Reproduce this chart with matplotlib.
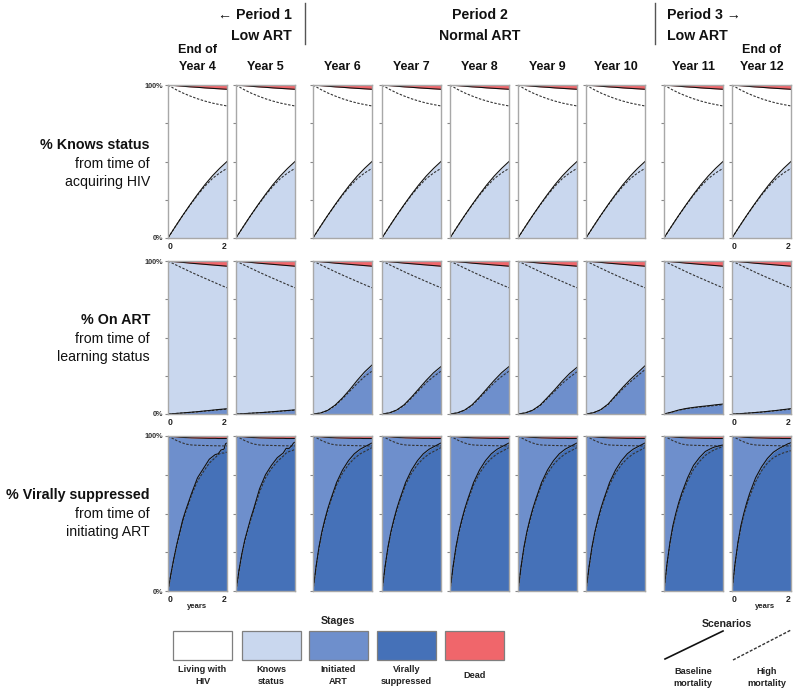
import matplotlib.pyplot as plt

plt.rcParams['font.family'] = ['Liberation Sans', 'DejaVu Sans']

# column headers
columns = ['End of\nYear 4', 'Year 5', 'Year 6', 'Year 7', 'Year 8',
           'Year 9', 'Year 10', 'Year 11', 'End of\nYear 12']

# years since start of stage
t = [0, 0.25, 0.5, 0.75, 1.0, 1.25, 1.5, 1.75, 2.0]
t3 = [0, 0.1, 0.2, 0.3, 0.4, 0.5, 0.6, 0.8, 1.0, 1.2, 1.4, 1.6, 1.7, 1.8, 1.9, 1.95, 2.0]

# row 1: % knows status from time of acquiring HIV (same in every year)
know_base = [0, 7.5, 14.8, 21.8, 28.5, 34.8, 40.5, 45.5, 50]
know_high = [0, 7.5, 14.7, 21.5, 28, 33.8, 38.8, 42.5, 45.5]
dead1_base = [100, 99.6, 99.2, 98.8, 98.5, 98.1, 97.8, 97.5, 97.2]
dead1_high = [100, 97.2, 94.8, 92.8, 91.0, 89.5, 88.2, 87.2, 86.3]

# row 2: % on ART from time of learning status
art_base = [
    [0, 0.3, 0.7, 1.1, 1.5, 2.0, 2.5, 3.0, 3.4],
    [0, 0.2, 0.5, 0.8, 1.1, 1.5, 1.9, 2.3, 2.7],
    [0, 0.6, 2.4, 5.8, 10.5, 16, 22, 27.5, 32],
    [0, 0.7, 2.6, 6, 11, 16.5, 22, 27, 31],
    [0, 0.7, 2.6, 6, 11, 16.5, 22, 27, 31],
    [0, 0.7, 2.5, 5.8, 10.8, 16, 21.5, 26.5, 30.5],
    [0, 0.8, 2.8, 6.5, 12, 17.5, 22.5, 27, 31.5],
    [0, 1.2, 2.6, 3.6, 4.3, 4.9, 5.4, 6.0, 6.5],
    [0, 0.2, 0.5, 0.9, 1.3, 1.8, 2.3, 2.9, 3.5],
]
art_high = [
    [0, 0.3, 0.7, 1.0, 1.4, 1.9, 2.3, 2.8, 3.2],
    [0, 0.2, 0.5, 0.8, 1.1, 1.4, 1.8, 2.2, 2.5],
    [0, 0.6, 2.3, 5.5, 10, 15, 20, 24.5, 28],
    [0, 0.7, 2.5, 5.7, 10.5, 15.5, 20.5, 24.5, 28],
    [0, 0.7, 2.5, 5.7, 10.5, 15.5, 20.5, 24.5, 28],
    [0, 0.7, 2.4, 5.5, 10.3, 15, 20, 24, 27.5],
    [0, 0.8, 2.7, 6.2, 11.5, 16.5, 21, 25, 29],
    [0, 1.1, 2.5, 3.4, 4.1, 4.6, 5.1, 5.6, 6.1],
    [0, 0.2, 0.5, 0.9, 1.2, 1.7, 2.2, 2.7, 3.2],
]
dead2_base = [100, 99.5, 99.1, 98.6, 98.2, 97.8, 97.4, 97.0, 96.6]
dead2_high = [100, 97.6, 95.3, 93.0, 90.8, 88.7, 86.6, 84.5, 82.5]

# row 3: % virally suppressed from time of initiating ART
vs_base = [
    [0, 11, 21, 30, 38, 46, 52, 63, 73, 79, 85, 88, 88.5, 91, 91.5, 95, 95.5],
    [0, 13, 24, 33, 40, 47, 53, 66, 75, 81, 86, 89, 92, 92, 94, 95.5, 96],
    [0, 15, 28, 38, 46, 53, 59, 70, 78, 84, 88.5, 91.5, 92.5, 93.5, 94.5, 95, 95.5],
    [0, 15, 28, 38, 46, 53, 59, 70, 78, 84, 88.5, 91.5, 92.5, 93.5, 94.5, 95, 95.5],
    [0, 15, 28, 38, 46, 53, 59, 70, 78, 84, 88.5, 91.5, 92.5, 93.5, 94.5, 95, 95.5],
    [0, 15, 28, 38, 46, 53, 59, 70, 78, 84, 88.5, 91.5, 92.5, 93.5, 94.5, 95, 95.5],
    [0, 15, 28, 38, 46, 53, 59, 70, 78, 84, 88.5, 91.5, 92.5, 93.5, 94.5, 95, 95.5],
    [0, 17, 31, 42, 50, 57, 63, 73, 81, 86, 90, 92, 92.8, 93.3, 93.8, 94, 94.2],
    [0, 17, 31, 42, 50, 57, 63, 73, 80, 85.5, 89.5, 92, 93, 94, 95, 95.3, 95.7],
]
vs_high = [
    [0, 11, 21, 30, 37.5, 45, 51, 62, 71, 77, 82.5, 86, 88, 89, 89, 89.5, 89.5],
    [0, 13, 24, 32.5, 39.5, 46, 52, 64, 73, 79, 83.5, 87, 89, 90, 90.5, 91, 91],
    [0, 15, 27.5, 37.5, 45, 52, 58, 68.5, 76, 81.5, 85.5, 88.5, 89.5, 90.5, 91.5, 92, 92.5],
    [0, 15, 27.5, 37.5, 45, 52, 58, 68.5, 76, 81.5, 85.5, 88.5, 89.5, 90.5, 91.5, 92, 92.5],
    [0, 15, 27.5, 37.5, 45, 52, 58, 68.5, 76, 81.5, 85.5, 88.5, 89.5, 90.5, 91.5, 92, 92.5],
    [0, 15, 27.5, 37.5, 45, 52, 58, 68.5, 76, 81.5, 85.5, 88.5, 89.5, 90.5, 91.5, 92, 92.5],
    [0, 15, 27.5, 37.5, 45, 52, 58, 68.5, 76, 81.5, 85.5, 88.5, 89.5, 90.5, 91.5, 92, 92.5],
    [0, 17, 30.5, 41, 49, 56, 61.5, 71, 78.5, 83.5, 87.5, 90, 91, 91.8, 92.5, 92.8, 93],
    [0, 17, 30.5, 41, 49, 55.5, 61, 70.5, 77.5, 82.5, 86, 88, 88.8, 89.5, 90, 90.3, 90.5],
]
dead3_base = [100, 99.8, 99.6, 99.4, 99.2, 99.1, 99, 98.8, 98.7, 98.6, 98.5,
              98.5, 98.4, 98.4, 98.4, 98.4, 98.4]
dead3_high = [100, 99, 98, 97, 96.2, 95.5, 94.8, 94.2, 94, 93.9, 93.8,
              93.7, 93.7, 93.6, 93.6, 93.6, 93.6]

stages = ['Living with\nHIV', 'Knows\nstatus', 'Initiated\nART', 'Virally\nsuppressed', 'Dead']

C_LIVE = 'white'
C_KNOW = '#C9D7EE'
C_ART = '#6E8FCC'
C_VS = '#4571B8'
C_DEAD = '#F0666B'
stage_colors = [C_LIVE, C_KNOW, C_ART, C_VS, C_DEAD]

W, H = 800, 691
fig = plt.figure(figsize=(W / 100, H / 100), dpi=100)

col_left = [168, 236, 313, 382, 450, 518, 586, 664, 732]
col_w = 59
row_top = [85, 261, 436]
row_h = [153, 153, 155]


def rect(left, top, w, h):
    return [left / W, 1 - (top + h) / H, w / W, h / H]


def panel(ax, x, low, dead, low_h, dead_h, c_low, c_mid):
    ax.fill_between(x, 0, low, color=c_low, lw=0)
    ax.fill_between(x, low, dead, color=c_mid, lw=0)
    ax.fill_between(x, dead, 100, color=C_DEAD, lw=0)
    dash = (0, (2.2, 1.4))
    ax.plot(x, low_h, color='#333333', lw=0.8, ls=dash)
    ax.plot(x, dead_h, color='#333333', lw=0.8, ls=dash)
    ax.plot(x, low, color='#111111', lw=0.8)
    ax.plot(x, dead, color='#111111', lw=0.8)


for r in range(3):
    for c in range(9):
        ax = fig.add_axes(rect(col_left[c], row_top[r], col_w, row_h[r]))
        if r == 0:
            panel(ax, t, know_base, dead1_base, know_high, dead1_high, C_KNOW, C_LIVE)
        elif r == 1:
            panel(ax, t, art_base[c], dead2_base, art_high[c], dead2_high, C_ART, C_KNOW)
        else:
            panel(ax, t3, vs_base[c], dead3_base, vs_high[c], dead3_high, C_VS, C_ART)
        ax.set_xlim(0, 2)
        ax.set_ylim(0, 100)
        for s in ax.spines.values():
            s.set_color('#A8A8A8')
            s.set_linewidth(1)
        ax.set_yticks([0, 25, 50, 75, 100])
        ax.tick_params(axis='y', length=2.5, width=0.8, color='#888888', pad=1)
        if c == 0:
            ax.set_yticklabels(['0%', '', '', '', '100%'], fontsize=5.3,
                               fontweight='bold', color='#333333')
        else:
            ax.set_yticklabels([])
        if c in (0, 8):
            ax.set_xticks([0, 2])
            labs = ax.set_xticklabels(['0', '2'], fontsize=6.2, fontweight='bold',
                                      color='#222222')
            labs[0].set_ha('left')
            labs[1].set_ha('right')
            ax.tick_params(axis='x', length=0, pad=3)
        else:
            ax.set_xticks([])

# overlay for titles and legend, in pixel coordinates
ov = fig.add_axes([0, 0, 1, 1])
ov.set_xlim(0, W)
ov.set_ylim(H, 0)
ov.axis('off')
ov.patch.set_alpha(0)


def lines(x, y0, text, dy, **kw):
    for i, s in enumerate(text.split('\n')):
        ov.text(x, y0 + i * dy, s, va='center', **kw)


# period headers
hb = dict(fontsize=10.2, fontweight='bold', color='#111111')
lines(292, 15, '\u2190 Period 1\nLow ART', 21, ha='right', **hb)
lines(480, 15, 'Period 2\nNormal ART', 21, ha='center', **hb)
lines(667, 15, 'Period 3 \u2192\nLow ART', 21, ha='left', **hb)
ov.plot([305, 305], [3, 44], color='#555555', lw=1)
ov.plot([655, 655], [3, 44], color='#555555', lw=1)

# column titles
for c, name in enumerate(columns):
    xc = col_left[c] + col_w / 2
    n = name.count('\n')
    lines(xc, 67 - 17 * n, name, 17, ha='center', fontsize=9,
          fontweight='bold', color='#111111')

# row labels
row_bold = ['% Knows status', '% On ART', '% Virally suppressed']
row_rest = ['from time of\nacquiring HIV', 'from time of\nlearning status',
            'from time of\ninitiating ART']
for r, y in enumerate([145, 320, 495]):
    ov.text(150, y, row_bold[r], ha='right', va='center', fontsize=10.3,
            fontweight='bold', color='#111111')
    lines(150, y + 19, row_rest[r], 18, ha='right', fontsize=10.2, color='#111111')

# years labels
for x in (197, 765):
    ov.text(x, 607, 'years', ha='center', va='center', fontsize=5.6,
            fontweight='bold', color='#222222')

# stages legend
ov.text(338, 621, 'Stages', ha='center', va='center', fontsize=7.6,
        fontweight='bold', color='#222222')
box_left = [173, 242, 309, 377, 445]
for i, lab in enumerate(stages):
    ov.add_patch(plt.Rectangle((box_left[i], 631), 59, 29, facecolor=stage_colors[i],
                               edgecolor='#7F7F7F', lw=0.9))
    n = lab.count('\n')
    lines(box_left[i] + 29.5, 670 + 6 * (1 - n), lab, 12, ha='center', fontsize=6.6,
          fontweight='bold', color='#222222')

# scenarios legend
ov.text(727, 624, 'Scenarios', ha='center', va='center', fontsize=7.6,
        fontweight='bold', color='#222222')
ov.plot([665, 723], [659, 631], color='#111111', lw=1.2)
ov.plot([733, 791], [660, 630], color='#333333', lw=1.0, ls=(0, (2.2, 1.2)))
lines(693, 671, 'Baseline\nmortality', 12, ha='center', fontsize=6.6,
      fontweight='bold', color='#222222')
lines(767, 671, 'High\nmortality', 12, ha='center', fontsize=6.6,
      fontweight='bold', color='#222222')

fig.savefig('out.png', dpi=100)
